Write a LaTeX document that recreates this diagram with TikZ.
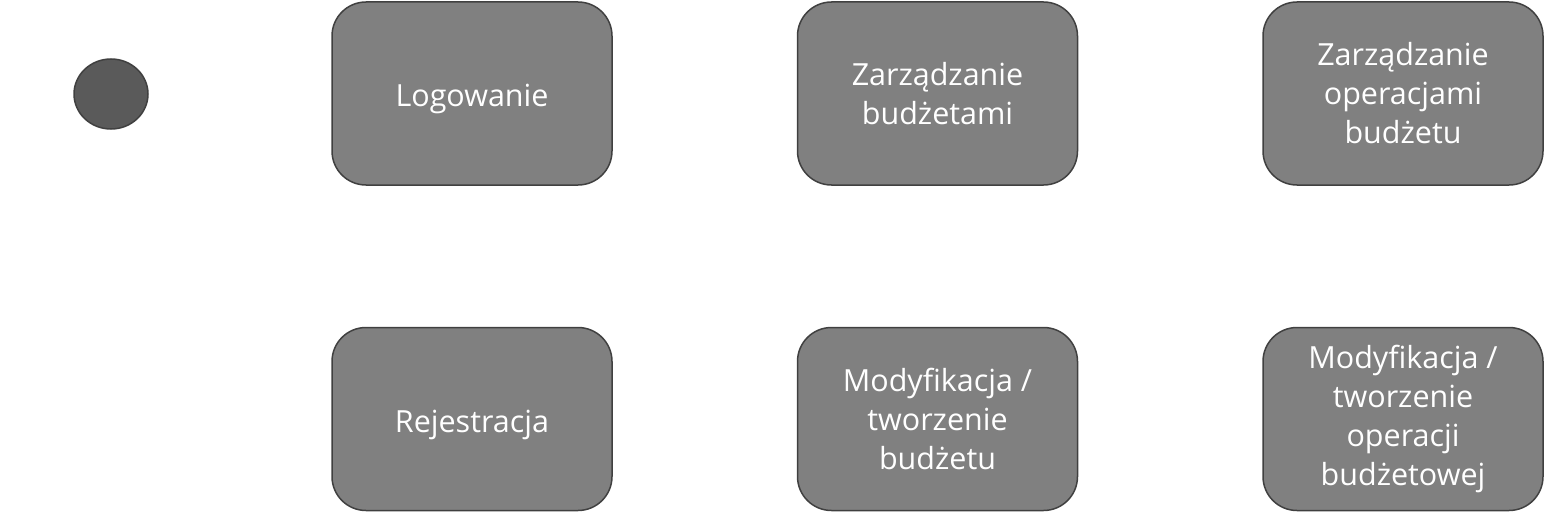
\documentclass[tikz,border=0pt]{standalone}
\usepackage{fontspec}
\setmainfont{Open Sans}
\usetikzlibrary{positioning}
\definecolor{boxfill}{HTML}{808080}
\definecolor{boxline}{HTML}{404040}
\definecolor{startfill}{HTML}{5A5A5A}
\tikzset{
  state/.style={draw=boxline, line width=1.5pt, fill=boxfill, rounded corners=34pt,
    minimum width=280pt, minimum height=183pt, align=center, text=white,
    font=\fontsize{30.5}{39}\selectfont,
    execute at begin node={\rule{0pt}{34pt}}}
}
\begin{document}
\begin{tikzpicture}[x=1pt, y=-1pt]
  \useasboundingbox (0,0) rectangle (1545,519);

  \node[draw=boxline, line width=1.5pt, fill=startfill, circle, minimum size=70pt,
    inner sep=0pt, xscale=74/70] (start) at (111,94) {};

  \node[state] (login) at (472,93.5) {Logowanie};
  \node[state] (budgets) at (937.5,93.5) {Zarządzanie\\budżetami};
  \node[state] (operations) at (1403,93.5) {Zarządzanie\\operacjami\\budżetu};

  \node[state] (register) at (472,419) {Rejestracja};
  \node[state] (editbudget) at (937.5,419) {Modyfikacja /\\tworzenie\\budżetu};
  \node[state] (editop) at (1403,419) {Modyfikacja /\\tworzenie\\operacji\\budżetowej};
\end{tikzpicture}
\end{document}
